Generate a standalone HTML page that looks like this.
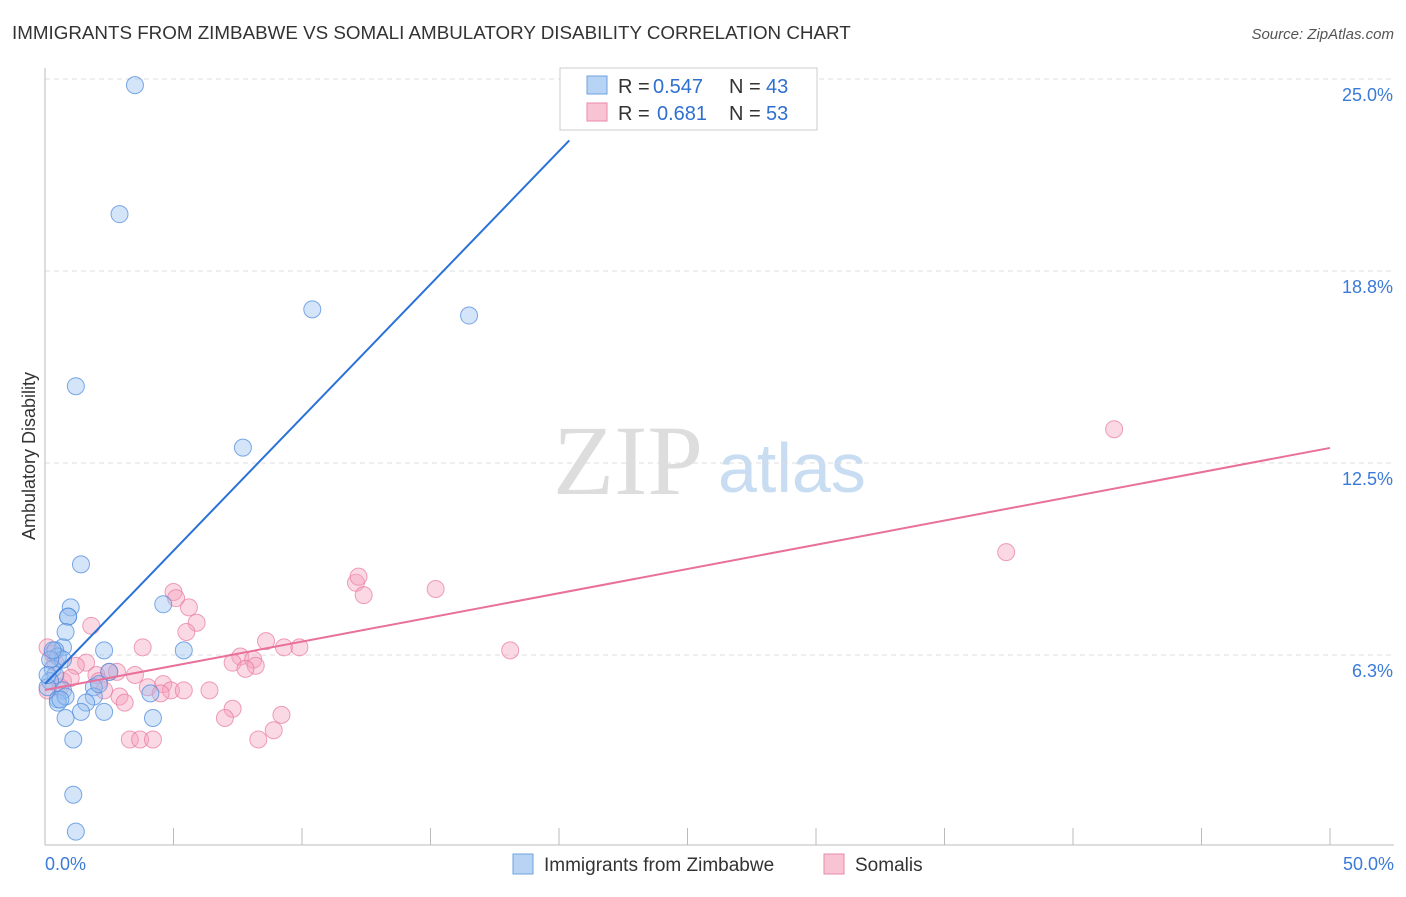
<!DOCTYPE html>
<html><head><meta charset="utf-8"><style>
body{margin:0;background:#fff;font-family:"Liberation Sans",sans-serif;}
svg text{font-family:"Liberation Sans",sans-serif;}
</style></head><body>
<svg id="chart" width="1406" height="892">
<text x="12" y="39" font-size="18.8" fill="#333">IMMIGRANTS FROM ZIMBABWE VS SOMALI AMBULATORY DISABILITY CORRELATION CHART</text>
<text x="1394" y="39" font-size="15" fill="#555" font-style="italic" text-anchor="end">Source: ZipAtlas.com</text>
<text x="35" y="456" font-size="18" fill="#333" transform="rotate(-90 35 456)" text-anchor="middle">Ambulatory Disability</text>
<text x="553" y="494" font-size="100" fill="#ddd" style="font-family:'Liberation Serif',serif">ZIP</text>
<text x="718" y="492" font-size="70" fill="#c8dcf2">atlas</text>
<g id="grid"></g><g id="pts"></g><g id="lines"></g>
<g>
<rect x="560" y="68" width="257" height="62" fill="#fff" stroke="#ccc"/>
<rect x="587" y="76" width="20" height="18" fill="#b8d4f5" stroke="#6fa0e0"/>
<text x="618" y="93" font-size="20" fill="#333">R =</text>
<text x="653" y="93" font-size="20" fill="#2f6fd0">0.547</text>
<text x="729" y="93" font-size="20" fill="#333">N =</text>
<text x="766" y="93" font-size="20" fill="#2f6fd0">43</text>
<rect x="587" y="103" width="20" height="18" fill="#f8c4d4" stroke="#e88aaa"/>
<text x="618" y="120" font-size="20" fill="#333">R =</text>
<text x="657" y="120" font-size="20" fill="#2f6fd0">0.681</text>
<text x="729" y="120" font-size="20" fill="#333">N =</text>
<text x="766" y="120" font-size="20" fill="#2f6fd0">53</text>
</g>
<g>
<rect x="513" y="854" width="20" height="20" fill="#b8d4f5" stroke="#6fa0e0"/>
<text x="544" y="871" font-size="19" fill="#333">Immigrants from Zimbabwe</text>
<rect x="824" y="854" width="20" height="20" fill="#f8c4d4" stroke="#e88aaa"/>
<text x="855" y="871" font-size="19" fill="#333">Somalis</text>
</g>
</svg>
<script>
const yTicks=[6.25,12.5,18.75,25];
const yTickLabels=["6.3%","12.5%","18.8%","25.0%"];
const xTickLabels=["0.0%","50.0%"];
const blueX=[3.5,2.9,10.4,16.5,1.2,7.7,1.4,4.6,1.0,0.9,0.9,0.8,0.7,2.3,5.4,0.4,0.5,0.7,0.3,0.4,0.2,0.1,2.5,1.9,0.7,0.5,0.5,0.8,1.9,4.1,1.6,1.4,2.3,0.8,4.2,1.1,1.1,1.2,0.2,0.3,0.6,0.1,2.1];
const blueY=[24.8,20.6,17.5,17.3,15.0,13.0,9.2,7.9,7.8,7.5,7.5,7.0,6.5,6.4,6.4,6.4,6.2,6.1,5.8,5.6,5.4,5.2,5.7,5.2,5.1,4.8,4.7,4.9,4.9,5.0,4.7,4.4,4.4,4.2,4.2,3.5,1.7,0.5,6.1,6.4,4.8,5.6,5.3];
const pinkX=[5.0,5.1,5.6,5.9,5.5,3.8,1.8,8.6,9.3,9.9,7.6,8.1,7.3,8.2,7.8,12.1,12.2,12.4,15.2,18.1,37.4,41.6,0.1,0.3,0.4,1.6,1.2,2.5,2.8,2.0,0.7,2.1,3.5,4.0,4.6,4.9,5.4,6.4,4.5,2.9,3.1,2.3,7.3,9.2,7.0,8.9,3.3,3.7,4.2,8.3,0.1,0.6,1.0];
const pinkY=[8.3,8.1,7.8,7.3,7.0,6.5,7.2,6.7,6.5,6.5,6.2,6.1,6.0,5.9,5.8,8.6,8.8,8.2,8.4,6.4,9.6,13.6,6.5,6.3,6.0,6.0,5.9,5.7,5.7,5.6,5.4,5.4,5.6,5.2,5.3,5.1,5.1,5.1,5.0,4.9,4.7,5.1,4.5,4.3,4.2,3.8,3.5,3.5,3.5,3.5,5.1,5.2,5.5];
const blueLine=[5.31,23.0,20.4];
const pinkLine=[5.11,12.99];
const NS="http://www.w3.org/2000/svg";
const X=v=>45+v/50*1285, Y=v=>847-v/25*768;
function mk(t,a,p){const e=document.createElementNS(NS,t);for(const k in a)e.setAttribute(k,a[k]);p.appendChild(e);return e;}
const g=document.getElementById('grid');
yTicks.forEach((t,i)=>{
 const l=mk('line',{x1:45,x2:1394,y1:Y(t),y2:Y(t),stroke:'#ddd','stroke-dasharray':'5,4'},g);
 
 
 const tx=mk('text',{x:1393,y:Y(t)+22,'font-size':18,fill:'#3a7ad8','text-anchor':'end'},g);tx.textContent=yTickLabels[i];
 
 
});
mk('line',{x1:45,x2:45,y1:68,y2:845,stroke:'#bbb'},g);
mk('line',{x1:45,x2:1394,y1:845,y2:845,stroke:'#bbb'},g);
for(let i=1;i<=10;i++){mk('line',{x1:X(i*5),x2:X(i*5),y1:828,y2:845,stroke:'#bbb'},g);}
xTickLabels.forEach((s,i)=>{const t=mk('text',{x:i?1394:45,y:870,'font-size':18,fill:'#3a7ad8','text-anchor':i?'end':'start'},g);t.textContent=s;
 
 });
const p=document.getElementById('pts');
pinkX.forEach((x,i)=>{const c=mk('circle',{cx:X(x),cy:Y(pinkY[i]),r:8.5,fill:'rgba(244,160,188,0.4)',stroke:'rgba(232,120,158,0.7)'},p);
 
 });
blueX.forEach((x,i)=>{const c=mk('circle',{cx:X(x),cy:Y(blueY[i]),r:8.5,fill:'rgba(150,190,240,0.4)',stroke:'rgba(80,140,220,0.75)'},p);
 
 });
const L=document.getElementById('lines');
const bl=mk('line',{x1:X(0),y1:Y(blueLine[0]),x2:X(blueLine[2]),y2:Y(blueLine[1]),stroke:'#2a72d8','stroke-width':2},L);


const pl=mk('line',{x1:X(0),y1:Y(pinkLine[0]),x2:X(50),y2:Y(pinkLine[1]),stroke:'#e8709a','stroke-width':2},L);


</script>
</body></html>
